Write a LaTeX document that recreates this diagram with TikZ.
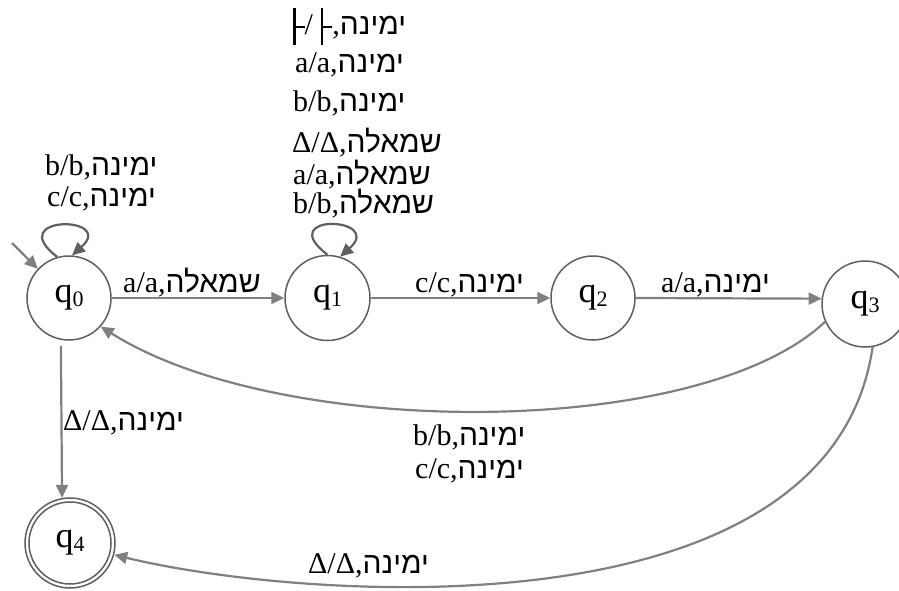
\documentclass[tikz,border=0pt]{standalone}
\usepackage{fontspec}
\setmainfont{Liberation Serif}
\newfontfamily\heb[Script=Hebrew]{Liberation Sans}
\TeXXeTstate=1
\usetikzlibrary{arrows.meta}
\definecolor{edgegray}{RGB}{128,128,128}
\definecolor{ringgray}{RGB}{95,95,95}
\definecolor{loopgray}{RGB}{95,95,95}
% Hebrew word set right to left
\newcommand\heR[1]{{\heb\beginR #1\endR}}
% transition label: symbols, then head direction
\newcommand\tr[2]{#1,\heR{#2}}
\newcommand\qsub[1]{q\raisebox{-4pt}{\fontsize{22}{22}\selectfont #1}}
% left end-marker of the tape
\newcommand\tee{\rule[-10pt]{2.4pt}{37pt}\rule[7pt]{9pt}{2pt}}
\begin{document}
\begin{tikzpicture}[x=1pt,y=-1pt,
  font=\fontsize{30}{34}\selectfont,
  stnode/.style={circle, draw=ringgray, line width=1.5pt, minimum size=84pt,
    inner sep=0pt, font=\fontsize{36}{36}\selectfont},
  edge/.style={draw=edgegray, line width=2.2pt,
    -{Triangle[length=13pt,width=12pt]}},
  loopedge/.style={edge, draw=loopgray},
  lbl/.style={anchor=base west, inner sep=0pt}]
\useasboundingbox (0,0) rectangle (899,591);
\clip (0,0) rectangle (899,591);

% states
\node[stnode] (q0) at (69,298) {\qsub{0}};
\node[stnode, minimum size=85pt] (q1) at (327.5,298) {\qsub{1}};
\node[stnode] (q2) at (593,298) {\qsub{2}};
\node[stnode, minimum size=86pt] (q3) at (865,304) {\qsub{3}};
\node[stnode, minimum size=90pt] (q4) at (70,543) {\qsub{4}};
\draw[ringgray, line width=1.5pt] (q4.center) circle[radius=41pt];

% start arrow
\coordinate (init) at (12,243);
\draw[edge] (init) -- (q0.137);

% transitions
\draw[edge] (q0) -- (q1);
\draw[edge] (q1) -- (q2);
\draw[edge] (q2.east) -- (q3.173);
\draw[edge, shorten <=6pt] (q0.259) -- (q4.100);
\draw[edge] (q3.204) .. controls (700,440) and (280,440) .. (q0.318);
\draw[edge] (q3.280) .. controls (830,640) and (300,600) .. (q4.345);
\draw[loopedge] (q0.106) .. controls +(-55,-42) and +(45,-40) .. (q0.86);
\draw[loopedge] (q1.90) .. controls +(-55,-42) and +(45,-40) .. (q1.73);

% labels
\node[lbl] (l01) at (123,292) {\tr{a/a}{שמאלה}};
\node[lbl] (l12) at (415,292) {\tr{c/c}{ימינה}};
\node[lbl] (l23) at (661,292) {\tr{a/a}{ימינה}};
\node[lbl] (l04) at (63,430) {\tr{Δ/Δ}{ימינה}};
\node[lbl] (l30a) at (413,445) {\tr{b/b}{ימינה}};
\node[lbl] (l30b) at (415,478) {\tr{c/c}{ימינה}};
\node[lbl] (l34) at (308,573) {\tr{Δ/Δ}{ימינה}};
\node[lbl] (l00a) at (45,175) {\tr{b/b}{ימינה}};
\node[lbl] (l00b) at (47,206) {\tr{c/c}{ימינה}};
\node[lbl] (l11a) at (293,35) {\tr{\tee/\hspace{8pt}\tee}{ימינה}};
\node[lbl] (l11b) at (295,73) {\tr{a/a}{ימינה}};
\node[lbl] (l11c) at (293,112) {\tr{b/b}{ימינה}};
\node[lbl] (l11d) at (292,153) {\tr{Δ/Δ}{שמאלה}};
\node[lbl] (l11e) at (293,184) {\tr{a/a}{שמאלה}};
\node[lbl] (l11f) at (293,213) {\tr{b/b}{שמאלה}};
\end{tikzpicture}
\end{document}
